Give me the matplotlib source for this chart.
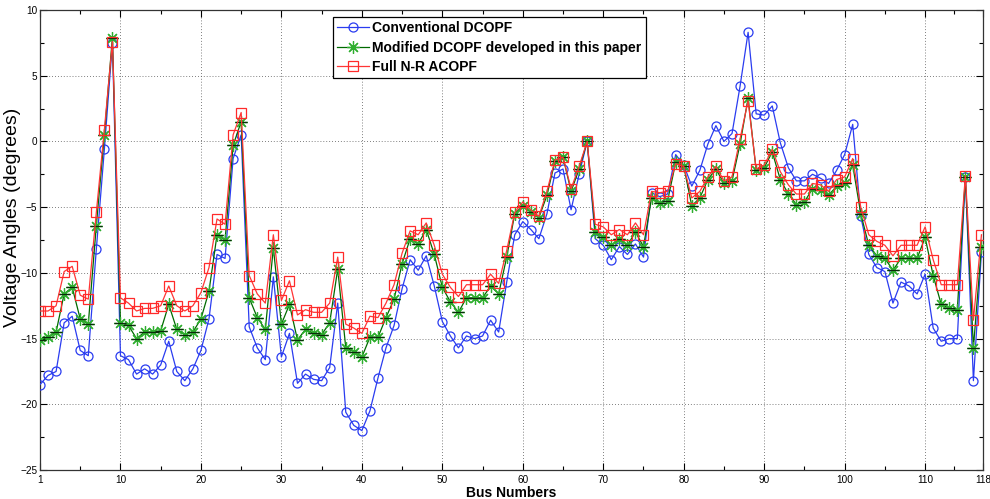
import numpy as np
import matplotlib
matplotlib.use("Agg")
import matplotlib.pyplot as plt
from matplotlib.ticker import FixedLocator

plt.rcParams['font.family'] = ['Liberation Sans', 'DejaVu Sans']

# voltage angles (degrees) per bus
conventional = [
    -18.5, -17.8, -17.5, -13.8, -13.3, -15.9, -16.3, -8.2, -0.6, 7.5,
    -16.3, -16.6, -17.7, -17.3, -17.7, -17.0, -15.2, -17.5, -18.2, -17.3,
    -15.9, -13.5, -8.6, -8.9, -1.3, 0.5, -14.1, -15.7, -16.6, -10.3,
    -16.4, -14.6, -18.4, -17.7, -18.1, -18.2, -17.2, -12.3, -20.6, -21.6,
    -22.0, -20.5, -18.0, -15.7, -14.0, -11.2, -9.0, -9.8, -8.7, -11.0,
    -13.7, -14.8, -15.7, -14.8, -15.0, -14.8, -13.6, -14.5, -10.7, -7.1,
    -6.1, -6.7, -7.4, -5.5, -2.4, -2.1, -5.2, -2.5, 0.0, -7.4,
    -7.9, -9.0, -8.0, -8.6, -7.8, -8.8, -3.9, -4.2, -4.0, -1.0,
    -1.8, -3.4, -2.2, -0.2, 1.2, 0.0, 0.6, 4.2, 8.3, 2.1,
    2.0, 2.7, -0.1, -2.0, -3.0, -3.0, -2.5, -2.8, -3.2, -2.2,
    -1.0, 1.3, -5.7, -8.6, -9.6, -9.9, -12.3, -10.7, -11.0, -11.6,
    -10.1, -14.2, -15.2, -15.0, -15.0, -2.7, -18.2, -8.4,
]
modified = [
    -15.1, -14.9, -14.5, -11.6, -11.1, -13.5, -13.9, -6.4, 0.5, 7.9,
    -13.8, -14.0, -15.0, -14.5, -14.5, -14.4, -12.4, -14.3, -14.7, -14.5,
    -13.5, -11.4, -7.1, -7.5, -0.3, 1.5, -11.9, -13.4, -14.3, -8.1,
    -13.9, -12.4, -15.1, -14.3, -14.6, -14.7, -13.8, -9.7, -15.7, -16.0,
    -16.4, -14.9, -14.9, -13.4, -12.0, -9.3, -7.4, -7.8, -6.7, -8.6,
    -11.1, -12.2, -13.0, -11.9, -11.9, -11.9, -11.0, -11.6, -8.8, -5.5,
    -4.9, -5.4, -5.8, -4.1, -1.5, -1.2, -3.8, -2.1, 0.0, -6.9,
    -7.3, -7.9, -7.4, -7.9, -6.9, -8.0, -4.3, -4.7, -4.5, -1.6,
    -1.9, -4.9, -4.3, -2.9, -2.1, -3.2, -3.0, -0.2, 3.3, -2.2,
    -2.0, -0.8, -2.9, -4.0, -4.8, -4.6, -3.6, -3.7, -4.1, -3.4,
    -3.2, -1.8, -5.5, -7.9, -8.7, -8.9, -9.8, -8.9, -8.9, -8.9,
    -7.3, -10.2, -12.4, -12.7, -12.8, -2.7, -15.7, -8.0,
]
acopf = [
    -12.9, -12.9, -12.5, -9.9, -9.5, -11.7, -12.0, -5.4, 0.9, 7.6,
    -11.9, -12.3, -12.9, -12.7, -12.7, -12.5, -11.0, -12.5, -12.9, -12.5,
    -11.5, -9.6, -5.9, -6.3, 0.5, 2.2, -10.2, -11.6, -12.3, -7.1,
    -12.1, -10.6, -13.2, -12.8, -13.0, -13.0, -12.3, -8.8, -13.9, -14.2,
    -14.6, -13.3, -13.4, -12.3, -10.9, -8.5, -6.8, -7.1, -6.2, -7.9,
    -10.1, -11.1, -11.8, -10.9, -10.9, -10.9, -10.1, -10.8, -8.3, -5.4,
    -4.6, -5.2, -5.7, -3.8, -1.4, -1.2, -3.6, -1.9, 0.0, -6.3,
    -6.5, -7.1, -6.7, -7.1, -6.2, -7.1, -3.8, -3.9, -3.8, -1.7,
    -1.9, -4.3, -3.8, -2.7, -1.9, -3.0, -2.7, 0.2, 3.1, -2.1,
    -1.8, -0.6, -2.3, -3.3, -4.0, -4.0, -3.2, -3.3, -3.8, -2.9,
    -2.7, -1.3, -5.0, -7.1, -7.6, -7.9, -8.7, -7.9, -7.9, -7.9,
    -6.5, -9.0, -10.9, -10.9, -10.9, -2.6, -13.6, -7.1,
]
labels = ["Conventional DCOPF", "Modified DCOPF developed in this paper", "Full N-R ACOPF"]
xtick_pos = [0, 10, 20, 30, 40, 50, 60, 70, 80, 90, 100, 110, 117.2]
xtick_labels = ["1", "10", "20", "30", "40", "50", "60", "70", "80", "90", "100", "110", "118"]

bus = np.arange(len(conventional))

fig = plt.figure(figsize=(9.9, 4.99), dpi=100)
ax = fig.add_axes([0.0404, 0.058, 0.9526, 0.922])

ax.plot(bus, conventional, color="#2a3cf0", lw=0.9, marker="o", ms=6.5,
        mfc="none", mec="#2a3cf0", mew=0.9, label=labels[0], zorder=3)
ax.plot(bus, modified, color="#006a00", lw=0.9, marker=(8, 2, 0), ms=9,
        mec="#2fae2f", mew=0.9, label=labels[1], zorder=4)
ax.plot(bus, modified, ls="none", marker="_", ms=9, mec="#0b2a0b", mew=0.9, zorder=4)
ax.plot(bus, acopf, color="#ff3535", lw=0.9, marker="s", ms=6.5,
        mfc="none", mec="#ff2a2a", mew=0.9, label=labels[2], zorder=5)

ax.set_xlim(0, 117.2)
ax.set_ylim(-25, 10)
ax.set_xticks(xtick_pos)
ax.set_xticklabels(xtick_labels)
ax.xaxis.set_minor_locator(FixedLocator(list(np.arange(5, 110, 10)) + [113.6]))
ax.set_yticks(np.arange(-25, 11, 5))
ax.yaxis.set_minor_locator(FixedLocator(np.arange(-22.5, 10, 5)))
ax.tick_params(which="both", direction="in", top=True, right=True, labelsize=7.2, width=0.8)
ax.tick_params(which="major", length=5)
ax.tick_params(which="minor", length=3)
ax.tick_params(axis="y", which="major", pad=2)
ax.grid(True, which="major", linestyle=(0, (1, 2.5)), color="#555555", lw=0.6)
for s in ax.spines.values():
    s.set_linewidth(0.9)
    s.set_color("#333333")

ax.set_ylabel("Voltage Angles (degrees)", fontsize=14)
ax.yaxis.set_label_coords(-0.0205, 0.55)
ax.set_xlabel("Bus Numbers", fontsize=10, fontweight="bold", labelpad=1)

leg = ax.legend(loc="upper left", bbox_to_anchor=(0.311, 0.985), fancybox=False,
                framealpha=1, edgecolor="black", borderaxespad=0,
                prop={"weight": "bold", "size": 10}, handlelength=2.3,
                borderpad=0.3, labelspacing=0.4, handletextpad=0.2)
leg.get_frame().set_linewidth(0.9)

fig.savefig("out.png", dpi=100)
